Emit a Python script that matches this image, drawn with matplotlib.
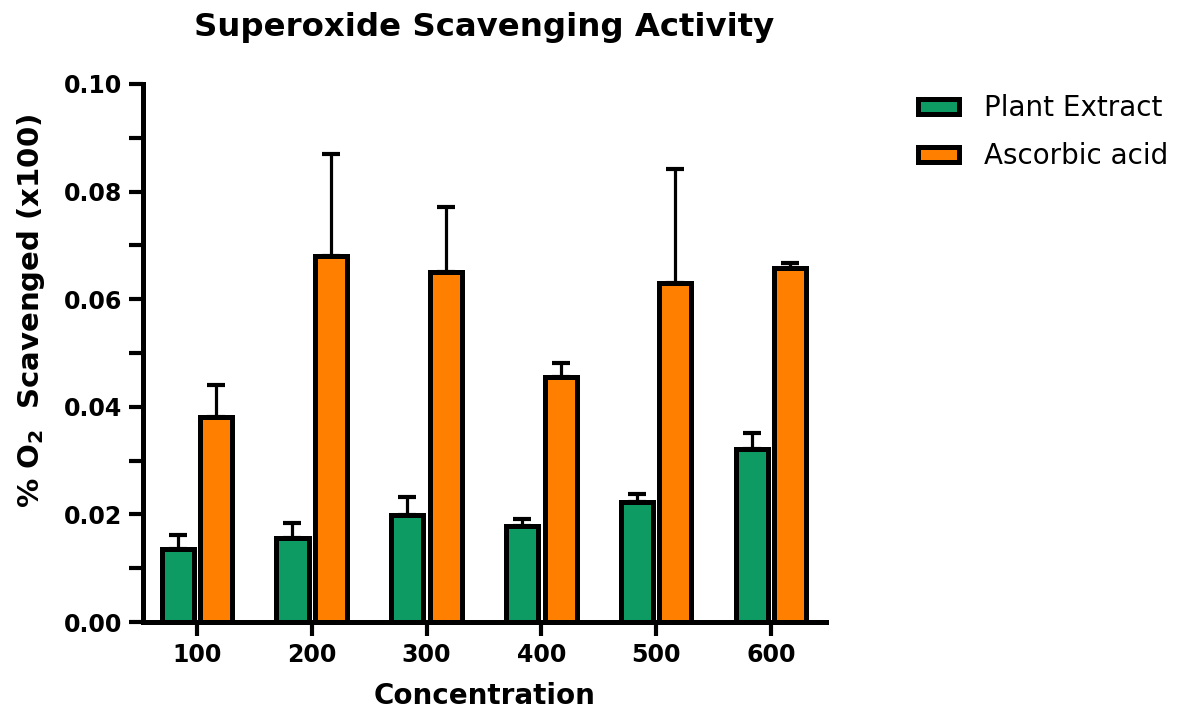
import matplotlib
matplotlib.use("Agg")
import matplotlib.pyplot as plt
import numpy as np
from matplotlib.ticker import MultipleLocator, FormatStrFormatter

categories = ["100", "200", "300", "400", "500", "600"]
plant = [0.0136, 0.0157, 0.0198, 0.0178, 0.0224, 0.0321]
plant_err = [0.0025, 0.0027, 0.0034, 0.0014, 0.0014, 0.0030]
ascorbic = [0.0381, 0.0681, 0.0651, 0.0455, 0.0631, 0.0658]
ascorbic_err = [0.0059, 0.0189, 0.0121, 0.0026, 0.0211, 0.0009]

plt.rcParams['font.family'] = ['DejaVu Sans']

fig = plt.figure(figsize=(11.95, 7.13), dpi=100)
ax = fig.add_axes([0.1197, 0.1276, 0.5715, 0.7546])

x = np.arange(len(categories))
w = 0.28
off = 0.168
green = "#0E9A63"
orange = "#FF8000"

ax.bar(x - off, plant, w, color=green, edgecolor="black", linewidth=3.6,
       label="Plant Extract", zorder=3)
ax.bar(x + off, ascorbic, w, color=orange, edgecolor="black", linewidth=3.6,
       label="Ascorbic acid", zorder=3)
ax.errorbar(x - off, plant, yerr=[np.zeros(len(plant)), plant_err], fmt="none",
            ecolor="black", elinewidth=2.3, capsize=6.5, capthick=3, zorder=2)
ax.errorbar(x + off, ascorbic, yerr=[np.zeros(len(ascorbic)), ascorbic_err], fmt="none",
            ecolor="black", elinewidth=2.3, capsize=6.5, capthick=3, zorder=2)

ax.set_xlim(-0.47, 5.48)
ax.set_ylim(0, 0.10)
ax.set_xticks(x)
ax.set_xticklabels(categories)
ax.yaxis.set_major_locator(MultipleLocator(0.02))
ax.yaxis.set_minor_locator(MultipleLocator(0.01))
ax.yaxis.set_major_formatter(FormatStrFormatter("%.2f"))

for s in ["top", "right"]:
    ax.spines[s].set_visible(False)
for s in ["left", "bottom"]:
    ax.spines[s].set_linewidth(3.6)
    ax.spines[s].set_capstyle("projecting")

ax.tick_params(axis="both", which="major", width=3, length=10, labelsize=17, pad=5)
ax.tick_params(axis="y", which="minor", width=3, length=10)
for lab in ax.get_xticklabels() + ax.get_yticklabels():
    lab.set_fontweight("bold")

fig.text(0.405, 0.961, "Superoxide Scavenging Activity", fontsize=23.3,
         fontweight="bold", ha="center", va="center")
ax.set_xlabel("Concentration", fontsize=20, fontweight="bold")
ax.xaxis.set_label_coords(0.5, -0.112)
ax.xaxis.label.set_va("top")
ax.set_ylabel(r"% O$_\mathbf{2}$  Scavenged (x100)", fontsize=21, fontweight="bold")
ax.yaxis.set_label_coords(-0.14, 0.578)

leg = fig.legend(handles=ax.get_legend_handles_labels()[0],
                 labels=ax.get_legend_handles_labels()[1],
                 loc="upper left", bbox_to_anchor=(0.768, 0.868), frameon=False,
                 fontsize=20, handlelength=1.5, handleheight=0.47, labelspacing=0.73,
                 handletextpad=0.9, borderpad=0, borderaxespad=0)

fig.savefig("out.png", dpi=100)
